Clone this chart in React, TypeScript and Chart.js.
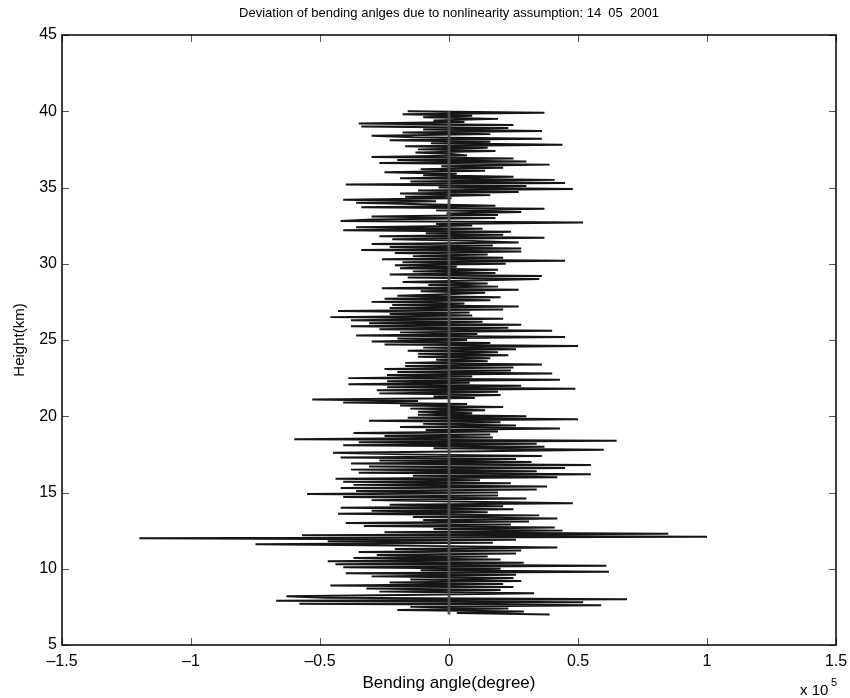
import React, { useEffect, useRef } from "react";
import { Chart, registerables } from "chart.js";

Chart.register(...registerables);

const chartTitle = "Deviation of bending anlges due to nonlinearity assumption: 14  05  2001";
const xAxisTitle = "Bending angle(degree)";
const yAxisTitle = "Height(km)";
const xMultiplier = "x 10";
const xMultiplierExp = "5";

const xTicks = [-1.5, -1, -0.5, 0, 0.5, 1, 1.5];
const yTicks = [5, 10, 15, 20, 25, 30, 35, 40, 45];

// heights (km)
const heightsKm = [
  7.0, 7.1, 7.2, 7.3, 7.4, 7.5, 7.6, 7.7, 7.8, 7.9,
  8.0, 8.1, 8.2, 8.3, 8.4, 8.5, 8.6, 8.7, 8.8, 8.9,
  9.0, 9.1, 9.2, 9.3, 9.4, 9.5, 9.6, 9.7, 9.8, 9.9,
  10.0, 10.1, 10.2, 10.3, 10.4, 10.5, 10.6, 10.7, 10.8, 10.9,
  11.0, 11.1, 11.2, 11.3, 11.4, 11.5, 11.6, 11.7, 11.8, 11.9,
  12.0, 12.1, 12.2, 12.3, 12.4, 12.5, 12.6, 12.7, 12.8, 12.9,
  13.0, 13.1, 13.2, 13.3, 13.4, 13.5, 13.6, 13.7, 13.8, 13.9,
  14.0, 14.1, 14.2, 14.3, 14.4, 14.5, 14.6, 14.7, 14.8, 14.9,
  15.0, 15.1, 15.2, 15.3, 15.4, 15.5, 15.6, 15.7, 15.8, 15.9,
  16.0, 16.1, 16.2, 16.3, 16.4, 16.5, 16.6, 16.7, 16.8, 16.9,
  17.0, 17.1, 17.2, 17.3, 17.4, 17.5, 17.6, 17.7, 17.8, 17.9,
  18.0, 18.1, 18.2, 18.3, 18.4, 18.5, 18.6, 18.7, 18.8, 18.9,
  19.0, 19.1, 19.2, 19.3, 19.4, 19.5, 19.6, 19.7, 19.8, 19.9,
  20.0, 20.1, 20.2, 20.3, 20.4, 20.5, 20.6, 20.7, 20.8, 20.9,
  21.0, 21.1, 21.2, 21.3, 21.4, 21.5, 21.6, 21.7, 21.8, 21.9,
  22.0, 22.1, 22.2, 22.3, 22.4, 22.5, 22.6, 22.7, 22.8, 22.9,
  23.0, 23.1, 23.2, 23.3, 23.4, 23.5, 23.6, 23.7, 23.8, 23.9,
  24.0, 24.1, 24.2, 24.3, 24.4, 24.5, 24.6, 24.7, 24.8, 24.9,
  25.0, 25.1, 25.2, 25.3, 25.4, 25.5, 25.6, 25.7, 25.8, 25.9,
  26.0, 26.1, 26.2, 26.3, 26.4, 26.5, 26.6, 26.7, 26.8, 26.9,
  27.0, 27.1, 27.2, 27.3, 27.4, 27.5, 27.6, 27.7, 27.8, 27.9,
  28.0, 28.1, 28.2, 28.3, 28.4, 28.5, 28.6, 28.7, 28.8, 28.9,
  29.0, 29.1, 29.2, 29.3, 29.4, 29.5, 29.6, 29.7, 29.8, 29.9,
  30.0, 30.1, 30.2, 30.3, 30.4, 30.5, 30.6, 30.7, 30.8, 30.9,
  31.0, 31.1, 31.2, 31.3, 31.4, 31.5, 31.6, 31.7, 31.8, 31.9,
  32.0, 32.1, 32.2, 32.3, 32.4, 32.5, 32.6, 32.7, 32.8, 32.9,
  33.0, 33.1, 33.2, 33.3, 33.4, 33.5, 33.6, 33.7, 33.8, 33.9,
  34.0, 34.1, 34.2, 34.3, 34.4, 34.5, 34.6, 34.7, 34.8, 34.9,
  35.0, 35.1, 35.2, 35.3, 35.4, 35.5, 35.6, 35.7, 35.8, 35.9,
  36.0, 36.1, 36.2, 36.3, 36.4, 36.5, 36.6, 36.7, 36.8, 36.9,
  37.0, 37.1, 37.2, 37.3, 37.4, 37.5, 37.6, 37.7, 37.8, 37.9,
  38.0, 38.1, 38.2, 38.3, 38.4, 38.5, 38.6, 38.7, 38.8, 38.9,
  39.0, 39.1, 39.2, 39.3, 39.4, 39.5, 39.6, 39.7, 39.8, 39.9,
  40.0,
];

// bending-angle deviation, in units of 1e5 (as on the axis)
const deviation = [
  0.39, 0.03, 0.29, -0.20, 0.23, -0.15, 0.59, -0.58, 0.52, -0.67,
  0.69, -0.48, -0.63, -0.10, 0.33, -0.27, 0.20, -0.32, 0.25, -0.46,
  0.21, -0.23, 0.28, -0.15, 0.25, -0.30, 0.26, -0.40, 0.62, -0.11,
  0.20, -0.41, 0.61, -0.44, 0.29, -0.47, 0.20, -0.37, 0.15, -0.28,
  0.26, -0.35, 0.28, -0.21, 0.42, -0.10, -0.75, 0.17, -0.47, 0.26,
  -1.20, 1.00, -0.57, 0.85, -0.25, 0.44, -0.06, 0.41, -0.33, 0.24,
  -0.40, 0.31, -0.10, 0.42, -0.14, 0.35, -0.43, 0.15, -0.30, 0.25,
  -0.42, 0.21, -0.23, 0.48, 0.07, -0.30, 0.30, -0.41, 0.19, -0.55,
  0.19, -0.36, 0.34, -0.42, 0.38, -0.37, 0.24, -0.41, 0.12, -0.44,
  0.42, -0.14, 0.55, -0.35, 0.34, -0.38, 0.45, -0.31, 0.55, -0.38,
  0.32, -0.27, 0.26, -0.42, 0.36, -0.18, -0.45, 0.12, 0.60, -0.06,
  0.37, -0.41, 0.34, -0.35, 0.65, -0.60, 0.17, -0.25, 0.16, -0.37,
  0.19, -0.09, 0.43, -0.19, 0.26, -0.10, 0.20, -0.31, 0.50, -0.16,
  0.30, -0.12, 0.09, -0.12, 0.14, -0.15, 0.21, -0.19, 0.07, -0.41,
  -0.12, -0.53, 0.10, -0.06, 0.20, -0.27, 0.19, -0.28, 0.49, -0.24,
  0.28, -0.39, 0.08, -0.24, 0.43, -0.39, 0.09, -0.24, 0.40, -0.20,
  0.24, -0.25, 0.25, -0.17, 0.36, -0.17, 0.15, -0.05, 0.16, -0.12,
  0.23, -0.12, 0.19, -0.16, 0.26, -0.10, 0.50, -0.25, 0.16, -0.30,
  0.07, -0.20, 0.45, -0.36, 0.11, -0.19, 0.40, -0.27, 0.23, -0.38,
  0.28, -0.31, 0.13, -0.38, 0.21, -0.46, 0.09, -0.23, 0.08, -0.43,
  0.21, -0.23, 0.27, -0.22, 0.06, -0.30, 0.16, -0.25, 0.20, -0.20,
  -0.01, 0.14, -0.11, 0.27, -0.26, 0.19, -0.08, 0.15, -0.18, 0.10,
  0.35, -0.16, 0.36, -0.23, 0.18, -0.14, 0.19, -0.19, 0.03, -0.21,
  0.22, -0.18, 0.45, -0.26, 0.21, -0.14, 0.15, -0.21, 0.28, -0.34,
  0.28, -0.23, 0.17, -0.30, 0.27, 0.09, -0.22, 0.37, -0.27, 0.21,
  -0.09, 0.24, -0.41, 0.13, -0.36, 0.09, -0.05, 0.52, -0.42, -0.30,
  0.18, -0.30, 0.19, -0.01, 0.28, -0.05, 0.37, -0.34, 0.18, -0.10,
  -0.36, -0.05, -0.41, 0.01, -0.17, 0.16, -0.19, 0.27, -0.12, 0.48,
  -0.04, 0.30, -0.40, 0.45, -0.15, 0.41, -0.19, 0.25, -0.10, 0.03,
  -0.25, 0.14, -0.11, 0.21, -0.03, 0.39, -0.27, 0.30, -0.20, 0.25,
  -0.30, 0.07, 0.01, -0.13, 0.18, -0.12, 0.15, -0.17, 0.44, -0.07,
  0.16, -0.23, 0.36, -0.14, -0.30, 0.16, -0.18, 0.36, -0.10, 0.23,
  -0.34, 0.25, -0.35, 0.06, -0.06, 0.19, -0.10, 0.09, -0.18, 0.37,
  -0.16,
];

// reference (zero) line
const zeroLineHeights = [7, 40];
const zeroLineValues = [0, 0];

const FONT = '"Liberation Sans", Arial, Helvetica, sans-serif';

function fmtTick(v: number): string {
  if (v < 0) return "\u2013" + String(Math.abs(v));
  return String(v);
}

const framePlugin = {
  id: "matlabFrame",
  afterDatasetsDraw(chart: any) {
    const { ctx, chartArea: a, scales } = chart;
    const xs = scales.x;
    const ys = scales.y;
    ctx.save();
    ctx.strokeStyle = "#5a5a5a";
    ctx.lineWidth = 1;
    const tl = 7;
    ctx.beginPath();
    xTicks.forEach((v) => {
      const px = Math.round(xs.getPixelForValue(v)) + 0.5;
      ctx.moveTo(px, a.bottom);
      ctx.lineTo(px, a.bottom - tl);
      ctx.moveTo(px, a.top);
      ctx.lineTo(px, a.top + tl);
    });
    yTicks.forEach((v) => {
      const py = Math.round(ys.getPixelForValue(v)) + 0.5;
      ctx.moveTo(a.left, py);
      ctx.lineTo(a.left + tl, py);
      ctx.moveTo(a.right, py);
      ctx.lineTo(a.right - tl, py);
    });
    ctx.stroke();
    ctx.strokeStyle = "#000";
    ctx.lineWidth = 1.5;
    ctx.strokeRect(a.left, a.top, a.right - a.left, a.bottom - a.top);

    ctx.fillStyle = "#000";
    ctx.textAlign = "left";
    ctx.textBaseline = "alphabetic";
    ctx.font = "15px " + FONT;
    ctx.fillText(xMultiplier, 800, 695);
    ctx.font = "11px " + FONT;
    ctx.fillText(xMultiplierExp, 831, 686);
    ctx.restore();
  },
};

export default function App() {
  const ref = useRef<HTMLCanvasElement | null>(null);

  useEffect(() => {
    if (!ref.current) return;
    const points = heightsKm.map((h, i) => ({ x: deviation[i], y: h }));
    const zero = zeroLineHeights.map((h, i) => ({ x: zeroLineValues[i], y: h }));
    const chart = new Chart(ref.current, {
      type: "scatter",
      data: {
        datasets: [
          {
            label: "zero",
            data: zero,
            showLine: true,
            borderColor: "#4f4f4f",
            borderWidth: 2.8,
            pointRadius: 0,
            order: 0,
          },
          {
            label: "deviation",
            data: points,
            showLine: true,
            borderColor: "#161616",
            borderWidth: 2,
            pointRadius: 0,
            tension: 0,
            order: 1,
          },
        ],
      },
      options: {
        animation: false,
        responsive: false,
        devicePixelRatio: 1,
        layout: { padding: { left: 0, right: 14, top: 0, bottom: 0 } },
        plugins: {
          legend: { display: false },
          tooltip: { enabled: false },
          title: {
            display: true,
            text: chartTitle,
            fullSize: false,
            color: "#000",
            font: { family: FONT, size: 13, weight: "normal", lineHeight: 1.2 },
            padding: { top: 6, bottom: 13.4 },
          },
        },
        scales: {
          x: {
            type: "linear",
            min: -1.5,
            max: 1.5,
            afterBuildTicks: (scale: any) => {
              scale.ticks = xTicks.map((v) => ({ value: v }));
            },
            afterFit: (scale: any) => {
              scale.height = 53;
              scale.paddingLeft = 0;
              scale.paddingRight = 0;
            },
            grid: { display: false, drawTicks: false },
            border: { display: false },
            ticks: {
              autoSkip: false,
              maxRotation: 0,
              color: "#000",
              padding: 7,
              font: { family: FONT, size: 16, lineHeight: 1.2 },
              callback: (v: any) => fmtTick(Number(v)),
            },
            title: {
              display: true,
              text: xAxisTitle,
              color: "#000",
              font: { family: FONT, size: 17, lineHeight: 1.2 },
              padding: { top: 0, bottom: 4 },
            },
          },
          y: {
            type: "linear",
            min: 5,
            max: 45,
            afterBuildTicks: (scale: any) => {
              scale.ticks = yTicks.map((v) => ({ value: v }));
            },
            afterFit: (scale: any) => {
              scale.width = 62;
              scale.paddingTop = 0;
              scale.paddingBottom = 0;
            },
            grid: { display: false, drawTicks: false },
            border: { display: false },
            ticks: {
              autoSkip: false,
              color: "#000",
              padding: 5,
              font: { family: FONT, size: 16, lineHeight: 1.2 },
              callback: (v: any) => fmtTick(Number(v)),
            },
            title: {
              display: true,
              text: yAxisTitle,
              color: "#000",
              font: { family: FONT, size: 15, lineHeight: 1.2 },
              padding: { top: 11, bottom: 0 },
            },
          },
        },
      },
      plugins: [framePlugin],
    });
    return () => chart.destroy();
  }, []);

  return (
    <div style={{ position: "fixed", left: 0, top: 0, width: 850, height: 698, background: "#fff" }}>
      <canvas ref={ref} width={850} height={698} style={{ width: 850, height: 698, display: "block" }} />
    </div>
  );
}
